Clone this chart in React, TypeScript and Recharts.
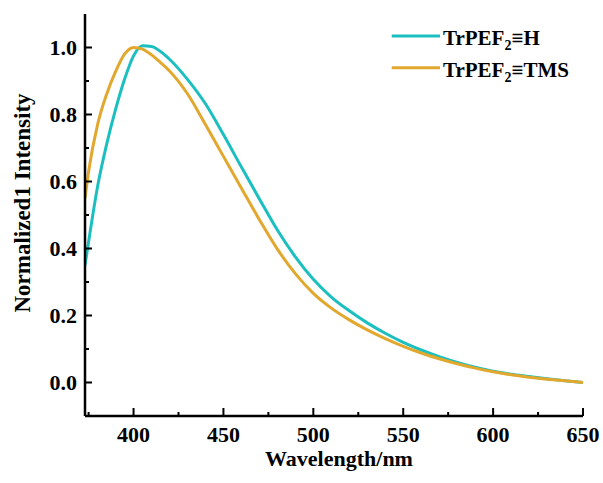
import { LineChart, Line, XAxis, YAxis, Legend } from "recharts";

const wavelengths = [
  373, 375, 380, 385, 390, 395, 400, 405, 410, 415, 420, 430, 440, 450, 460, 470, 480, 490,
  500, 510, 520, 530, 540, 550, 560, 570, 580, 590, 600, 610, 620, 630, 640, 650,
];
// TrPEF2≡H
const hIntensity = [
  0.35, 0.42, 0.585, 0.71, 0.815, 0.905, 0.975, 1.005, 1.003, 0.988, 0.965, 0.905, 0.832, 0.74,
  0.643, 0.548, 0.455, 0.375, 0.308, 0.255, 0.214, 0.178, 0.147, 0.12, 0.097, 0.077, 0.06, 0.046,
  0.034, 0.025, 0.018, 0.011, 0.005, 0.0,
];
// TrPEF2≡TMS
const tmsIntensity = [
  0.55, 0.63, 0.77, 0.86, 0.928, 0.98, 1.0, 0.995, 0.978, 0.955, 0.93, 0.862, 0.77, 0.675,
  0.58, 0.486, 0.398, 0.325, 0.266, 0.222, 0.187, 0.157, 0.131, 0.108, 0.088, 0.071, 0.056, 0.043,
  0.032, 0.023, 0.016, 0.01, 0.005, 0.0,
];

const xTicks = [375, 400, 425, 450, 475, 500, 525, 550, 575, 600, 625, 650];
const yTicks = [0, 0.1, 0.2, 0.3, 0.4, 0.5, 0.6, 0.7, 0.8, 0.9, 1.0];

const data = wavelengths.map((wl, i) => ({
  wl,
  h: hIntensity[i],
  tms: tmsIntensity[i],
}));

const FONT = "Liberation Serif, Times New Roman, DejaVu Serif, serif";
const CYAN = "#1cbfbf";
const ORANGE = "#e2a82e";

const textStyle = { fontFamily: FONT, fontWeight: 700 };

function XTick(props: any) {
  const { x, y, payload } = props;
  const v = payload.value;
  const major = v % 50 === 0;
  return (
    <g>
      <line x1={x} y1={y} x2={x} y2={y - (major ? 8 : 4)} stroke="#000" strokeWidth={2} />
      {major && (
        <text x={x} y={y + 26} textAnchor="middle" style={textStyle} fontSize={22} fill="#000">
          {v}
        </text>
      )}
    </g>
  );
}

function YTick(props: any) {
  const { x, y, payload } = props;
  const v = payload.value;
  const major = Math.round(v * 10) % 2 === 0;
  return (
    <g>
      <line x1={x} y1={y} x2={x + (major ? 7 : 4)} y2={y} stroke="#000" strokeWidth={2} />
      {major && (
        <text x={x - 8} y={y + 7.5} textAnchor="end" style={textStyle} fontSize={22} fill="#000">
          {v.toFixed(1)}
        </text>
      )}
    </g>
  );
}

function XTitle() {
  return (
    <text x={339} y={466} textAnchor="middle" style={textStyle} fontSize={22} fill="#000">
      Wavelength/nm
    </text>
  );
}

function YTitle() {
  return (
    <text
      x={30}
      y={203}
      transform="rotate(-90, 30, 203)"
      textAnchor="middle"
      style={textStyle}
      fontSize={23}
      fill="#000"
    >
      Normalized1 Intensity
    </text>
  );
}

const legendItems = [
  { color: CYAN, tail: "H" },
  { color: ORANGE, tail: "TMS" },
];

function LegendBox() {
  return (
    <svg width={200} height={70}>
      {legendItems.map((item, i) => {
        const cy = 16 + i * 31.7;
        return (
          <g key={item.tail}>
            <line x1={11.7} x2={60} y1={cy} y2={cy} stroke={item.color} strokeWidth={3} />
            <text x={63} y={cy + 9} style={textStyle} fontSize={21} fill="#000">
              TrPEF
              <tspan fontSize={14} dy={5}>2</tspan>
              <tspan dy={-5}>≡{item.tail}</tspan>
            </text>
          </g>
        );
      })}
    </svg>
  );
}

export default function App() {
  return (
    <div style={{ position: "absolute", left: 0, top: 0, width: 603, height: 483, background: "#fff" }}>
      <LineChart width={603} height={483} data={data} margin={{ top: 14, right: 20, bottom: 0, left: 0 }}>
        <XAxis
          dataKey="wl"
          type="number"
          domain={[373, 650]}
          ticks={xTicks}
          interval={0}
          allowDataOverflow
          height={67}
          tickSize={0}
          tickMargin={0}
          tickLine={false}
          tick={<XTick />}
          axisLine={{ stroke: "#000", strokeWidth: 2.5 }}
          label={<XTitle />}
        />
        <XAxis
          xAxisId="top"
          orientation="top"
          type="number"
          domain={[373, 650]}
          height={0}
          tick={false}
          tickLine={false}
          axisLine={{ stroke: "#000", strokeWidth: 2.5 }}
        />
        <YAxis
          type="number"
          domain={[-0.1, 1.1]}
          ticks={yTicks}
          interval={0}
          allowDataOverflow
          width={85}
          tickSize={0}
          tickMargin={0}
          tickLine={false}
          tick={<YTick />}
          axisLine={{ stroke: "#000", strokeWidth: 2.5 }}
          label={<YTitle />}
        />
        <YAxis
          yAxisId="right"
          orientation="right"
          type="number"
          domain={[-0.1, 1.1]}
          width={0}
          tick={false}
          tickLine={false}
          axisLine={{ stroke: "#000", strokeWidth: 2.5 }}
        />
        <Legend
          layout="horizontal"
          verticalAlign="middle"
          align="center"
          content={() => <LegendBox />}
          wrapperStyle={{ position: "absolute", left: 380, top: 20, width: 200, height: 70 }}
        />
        <Line
          type="monotone"
          dataKey="h"
          name="TrPEF2≡H"
          stroke={CYAN}
          strokeWidth={3}
          dot={false}
          isAnimationActive={false}
        />
        <Line
          type="monotone"
          dataKey="tms"
          name="TrPEF2≡TMS"
          stroke={ORANGE}
          strokeWidth={3}
          dot={false}
          isAnimationActive={false}
        />
      </LineChart>
    </div>
  );
}
